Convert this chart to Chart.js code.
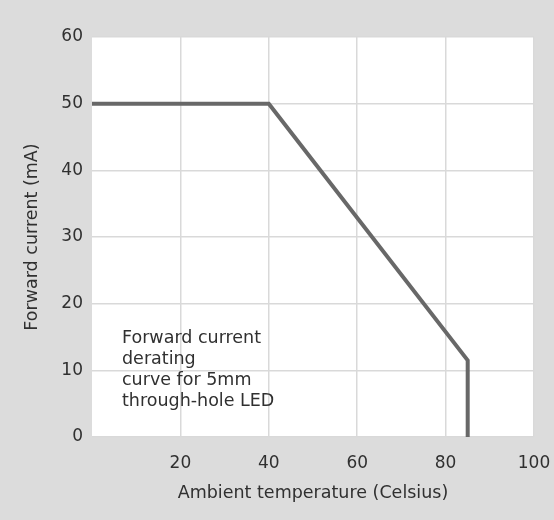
<!DOCTYPE html>
<html>
<head>
<meta charset="utf-8">
<title>LED derating curve</title>
<script src="https://cdn.jsdelivr.net/npm/chart.js@4/dist/chart.umd.min.js"></script>
<style>
  html, body { margin: 0; padding: 0; background: #dcdcdc; }
  #wrap { width: 554px; height: 520px; position: relative; }
</style>
</head>
<body>
<div id="wrap"><canvas id="derating"></canvas></div>
<script>
// derating curve: temperature (C) vs max forward current (mA)
const temps = [0, 40, 85, 85];
const currents = [50, 50, 11.5, 0];
const xTicks = [20, 40, 60, 80, 100];
const noteLines = ['Forward current', 'derating', 'curve for 5mm', 'through-hole LED'];

const textFont = '"DejaVu Sans", sans-serif';
const textColor = '#303030';

// white plot background + note text
const plotArea = {
    id: 'plotArea',
    beforeDraw(chart) {
        const { ctx, chartArea: a } = chart;
        ctx.save();
        ctx.fillStyle = '#ffffff';
        ctx.fillRect(a.left, a.top, a.right - a.left, a.bottom - a.top);
        ctx.restore();
    },
    afterDatasetsDraw(chart) {
        const { ctx, chartArea: a } = chart;
        ctx.save();
        ctx.font = '17.5px ' + textFont;
        ctx.fillStyle = textColor;
        ctx.textBaseline = 'middle';
        noteLines.forEach((t, i) => {
            ctx.fillText(t, a.left + 30, a.top + 301 + i * 21.3);
        });
        ctx.restore();
    }
};

const data = {
    datasets: [{
        data: temps.map((t, i) => ({ x: t, y: currents[i] })),
        borderColor: '#686868',
        borderWidth: 4,
        pointRadius: 0,
        tension: 0,
        fill: false,
        clip: false
    }]
};

const config = {
    type: 'line',
    data: data,
    options: {
        responsive: true,
        maintainAspectRatio: false,
        animation: false,
        layout: { padding: { left: 0, top: 37, right: 20, bottom: 16 } },
        plugins: {
            legend: { display: false },
            tooltip: { enabled: false }
        },
        scales: {
            x: {
                type: 'linear',
                min: 0,
                max: 100,
                afterBuildTicks: (scale) => {
                    scale.ticks = xTicks.map(v => ({ value: v }));
                },
                ticks: {
                    color: textColor,
                    font: { family: textFont, size: 17 },
                    padding: 16,
                    maxRotation: 0
                },
                grid: { color: '#d9d9d9', lineWidth: 1.5, drawTicks: false },
                border: { display: false },
                title: {
                    display: true,
                    text: 'Ambient temperature (Celsius)',
                    color: textColor,
                    font: { family: textFont, size: 17.5 },
                    padding: { top: 0, bottom: 0 }
                },
                afterFit: (scale) => {
                    scale.height = 67;
                    scale.paddingLeft = 0;
                    scale.paddingRight = 0;
                }
            },
            y: {
                min: 0,
                max: 60,
                ticks: {
                    stepSize: 10,
                    color: textColor,
                    font: { family: textFont, size: 17 },
                    padding: 9
                },
                grid: { color: '#d9d9d9', lineWidth: 1.5, drawTicks: false },
                border: { display: false },
                title: {
                    display: true,
                    text: 'Forward current (mA)',
                    color: textColor,
                    font: { family: textFont, size: 17.5 },
                    padding: { top: 22, bottom: 14 }
                },
                afterFit: (scale) => { scale.width = 92; }
            }
        }
    },
    plugins: [plotArea]
};

const derating = new Chart(document.getElementById('derating'), config);
</script>
</body>
</html>
